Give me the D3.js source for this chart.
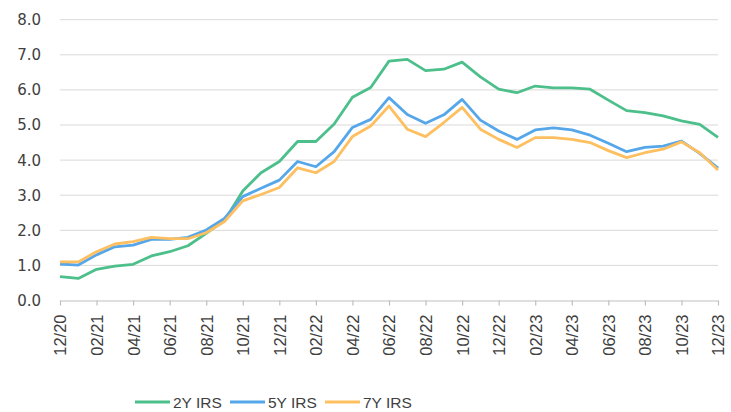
<!DOCTYPE html>
<html>
<head>
<meta charset="utf-8">
<script src="https://cdn.jsdelivr.net/npm/d3@7"></script>
<style>
  body { margin: 0; background: #fff; }
  .ylab { font-family: "DejaVu Sans", sans-serif; font-size: 15px; fill: #404040; }
  .xlab { font-family: "Liberation Sans Narrow", "Arial Narrow", sans-serif; font-size: 16.5px; fill: #404040; }
  .leg { font-family: "Liberation Sans Narrow", "Arial Narrow", sans-serif; font-size: 15.5px; fill: #404040; }
</style>
</head>
<body>
<svg id="chart" width="731" height="412"></svg>
<script>
var months = ["12/20","01/21","02/21","03/21","04/21","05/21","06/21","07/21","08/21","09/21","10/21","11/21",
  "12/21","01/22","02/22","03/22","04/22","05/22","06/22","07/22","08/22","09/22","10/22","11/22",
  "12/22","01/23","02/23","03/23","04/23","05/23","06/23","07/23","08/23","09/23","10/23","11/23","12/23"];

var irs2y = [0.68,0.63,0.89,0.98,1.03,1.27,1.39,1.56,1.91,2.28,3.12,3.64,3.96,4.53,4.53,5.03,5.79,6.07,6.82,6.87,6.55,6.59,6.79,6.37,
  6.02,5.92,6.11,6.06,6.06,6.02,5.71,5.41,5.35,5.26,5.12,5.02,4.65];
var irs5y = [1.04,1.01,1.30,1.53,1.58,1.74,1.74,1.80,2.01,2.34,2.96,3.20,3.43,3.96,3.81,4.24,4.93,5.16,5.78,5.30,5.05,5.29,5.73,5.14,
  4.83,4.59,4.86,4.92,4.86,4.71,4.48,4.24,4.36,4.40,4.54,4.19,3.77];
var irs7y = [1.10,1.10,1.39,1.61,1.68,1.80,1.76,1.76,1.93,2.25,2.84,3.02,3.22,3.78,3.64,3.96,4.67,4.97,5.54,4.88,4.67,5.07,5.50,4.88,
  4.59,4.36,4.64,4.64,4.59,4.50,4.27,4.07,4.21,4.31,4.52,4.21,3.72];

var seriesNames = ["2Y IRS", "5Y IRS", "7Y IRS"];
var yTicks = [0,1,2,3,4,5,6,7,8];

drawChart();

function drawChart() {
	var svg = d3.select("#chart");
	var colors = ["#4cbf8b", "#55a7e9", "#fdbf5f"];
	var series = [irs2y, irs5y, irs7y];

	var x = d3.scalePoint().domain(months).range([60, 718]);
	var y = d3.scaleLinear().domain([0, 8]).range([300.5, 19.7]);

	// gridlines
	svg.append("g").selectAll("line")
		.data(yTicks.filter(function(d) { return d > 0; }))
		.enter().append("line")
		.attr("x1", 60).attr("x2", 718)
		.attr("y1", function(d) { return y(d); })
		.attr("y2", function(d) { return y(d); })
		.attr("stroke", "#d9d9d9")
		.attr("stroke-width", 1);

	// y labels
	svg.append("g").selectAll("text")
		.data(yTicks)
		.enter().append("text")
		.attr("class", "ylab")
		.attr("x", 41)
		.attr("y", function(d) { return y(d); })
		.attr("dy", "0.36em")
		.attr("text-anchor", "end")
		.text(function(d) { return d3.format(".1f")(d); });

	// x axis
	var xAxis = d3.axisBottom(x)
		.tickValues(months.filter(function(d, i) { return i % 2 === 0; }))
		.tickSize(5)
		.tickSizeOuter(0);

	var gx = svg.append("g")
		.attr("transform", "translate(0," + y(0) + ")")
		.call(xAxis);
	gx.select(".domain").attr("stroke", "#bfbfbf").attr("stroke-width", 1.2);
	gx.selectAll(".tick line").attr("stroke", "#bfbfbf").attr("stroke-width", 1.2);
	gx.selectAll(".tick text")
		.attr("class", "xlab")
		.attr("transform", "translate(0,14) rotate(-90)")
		.attr("x", 0).attr("y", 0)
		.attr("dy", "0.36em")
		.attr("text-anchor", "end")
		.style("font-family", null).style("font-size", null);
	gx.attr("font-family", null).attr("font-size", null);

	// lines
	var line = d3.line()
		.x(function(d, i) { return x(months[i]); })
		.y(function(d) { return y(d); });

	svg.append("g").selectAll("path")
		.data(series)
		.enter().append("path")
		.attr("d", line)
		.attr("fill", "none")
		.attr("stroke", function(d, i) { return colors[i]; })
		.attr("stroke-width", 2.8)
		.attr("stroke-linejoin", "round");

	// legend
	var legX = [135, 230, 325];
	var leg = svg.append("g").selectAll("g")
		.data(seriesNames)
		.enter().append("g")
		.attr("transform", function(d, i) { return "translate(" + legX[i] + ",402)"; });
	leg.append("line")
		.attr("x1", 0).attr("x2", 35)
		.attr("stroke", function(d, i) { return colors[i]; })
		.attr("stroke-width", 2.8);
	leg.append("text")
		.attr("class", "leg")
		.attr("x", 38)
		.attr("dy", "0.36em")
		.text(function(d) { return d; });
}
</script>
</body>
</html>
